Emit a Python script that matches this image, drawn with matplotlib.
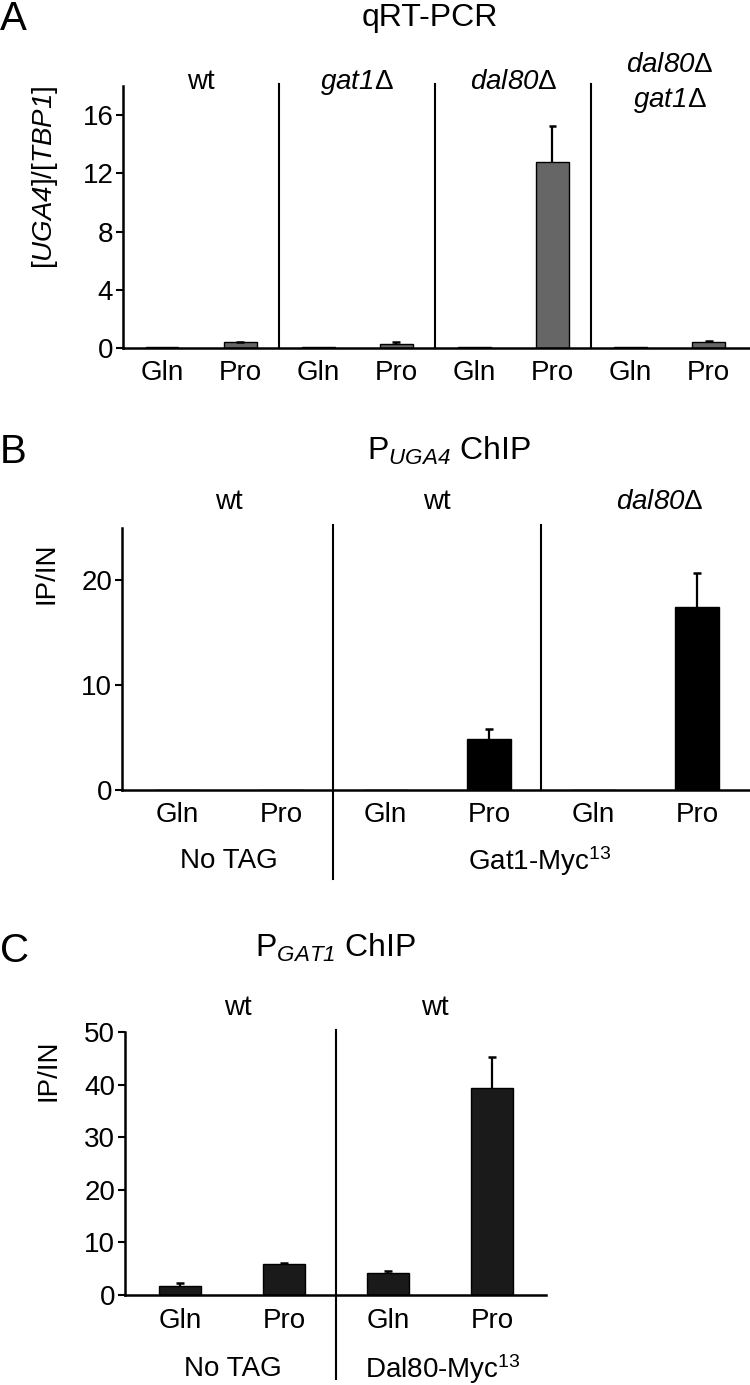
import matplotlib
matplotlib.use('Agg')
import matplotlib.pyplot as plt
import matplotlib.transforms as mtransforms

plt.rcParams['font.family'] = 'Liberation Sans'
plt.rcParams['mathtext.fontset'] = 'custom'
plt.rcParams['mathtext.rm'] = 'Liberation Sans'
plt.rcParams['mathtext.it'] = 'Liberation Sans:italic'
plt.rcParams['mathtext.sf'] = 'Liberation Sans:italic'   # italic incl. digits
plt.rcParams['mathtext.bf'] = 'Liberation Sans:bold'

# panel A - qRT-PCR
a_ticklabels = ['Gln', 'Pro', 'Gln', 'Pro', 'Gln', 'Pro', 'Gln', 'Pro']
a_values = [0.05, 0.38, 0.05, 0.30, 0.05, 12.8, 0.05, 0.42]
a_err = [0, 0.05, 0, 0.12, 0, 2.45, 0, 0.07]
a_groups = [['wt'], ['$\\mathsf{gat1}$Δ'], ['$\\mathsf{dal80}$Δ'],
            ['$\\mathsf{dal80}$Δ', '$\\mathsf{gat1}$Δ']]

# panel B - P_UGA4 ChIP
b_ticklabels = ['Gln', 'Pro', 'Gln', 'Pro', 'Gln', 'Pro']
b_values = [0, 0, 0, 4.85, 0, 17.5]
b_err = [0, 0, 0, 0.95, 0, 3.2]
b_groups = ['wt', 'wt', '$\\mathsf{dal80}$Δ']
b_tags = ['No TAG', 'Gat1-Myc$^{13}$']

# panel C - P_GAT1 ChIP
c_ticklabels = ['Gln', 'Pro', 'Gln', 'Pro']
c_values = [1.7, 5.8, 4.2, 39.3]
c_err = [0.6, 0.3, 0.3, 5.9]
c_groups = ['wt', 'wt']
c_tags = ['No TAG', 'Dal80-Myc$^{13}$']

W, H = 750, 1385
fig = plt.figure(figsize=(W / 100, H / 100), dpi=100)


def px(x, y):
    return x / W, 1 - y / H


def make_axes(left, top, right, bottom):
    l, t = px(left, top)
    r, b = px(right, bottom)
    return fig.add_axes([l, b, r - l, t - b])


def style(ax, ticklabels, xlim, ylim, yticks):
    for s in ['top', 'right']:
        ax.spines[s].set_visible(False)
    for s in ['left', 'bottom']:
        ax.spines[s].set_linewidth(1.8)
    ax.set_xlim(xlim)
    ax.set_ylim(ylim)
    ax.set_yticks(yticks)
    ax.set_xticks(range(len(ticklabels)))
    ax.set_xticklabels(ticklabels)
    ax.tick_params(axis='y', direction='out', length=5, width=1.5, labelsize=20, pad=2)
    ax.tick_params(axis='x', length=0, labelsize=20, pad=9)


def bars(ax, values, err, color, width, cap):
    x = range(len(values))
    ax.bar(x, values, width, color=color, edgecolor='black', linewidth=1.0, zorder=2)
    # upper error bars only
    for i in x:
        if err[i] > 0:
            top = values[i] + err[i]
            ax.vlines(i, values[i], top, color='black', lw=1.6, zorder=3)
            ax.hlines(top, i - cap / 2, i + cap / 2, color='black', lw=1.8, zorder=3)


def vline(ax, x, y0, y1):
    tr = mtransforms.blended_transform_factory(ax.transData, ax.transAxes)
    ax.plot([x, x], [y0, y1], color='black', lw=1.5, transform=tr, clip_on=False)


def label(ax, x, y, s, size=20):
    tr = mtransforms.blended_transform_factory(ax.transData, ax.transAxes)
    ax.text(x, y, s, transform=tr, ha='center', va='center', fontsize=size)


# ---- A ----
axA = make_axes(123, 86, 750, 348)
bars(axA, a_values, a_err, '#666666', 0.42, 0.1)
style(axA, a_ticklabels, (-0.5, 7.53), (0, 18), [0, 4, 8, 12, 16])
for x in [1.5, 3.5, 5.5]:
    vline(axA, x, 0, 1.008)
for i, g in enumerate(a_groups):
    if len(g) == 1:
        label(axA, 2 * i + 0.5, 1.015, g[0])
    else:
        label(axA, 2 * i + 0.5, 1.08, g[0])
        label(axA, 2 * i + 0.5, 0.945, g[1])
fig.text(*px(45, 177), '[$\\mathsf{UGA4}$]/[$\\mathsf{TBP1}$]', rotation=90,
         ha='center', va='center', fontsize=20)
fig.text(*px(0, 19), 'A', ha='left', va='center', fontsize=29)
fig.text(*px(430, 18), 'qRT-PCR', ha='center', va='center', fontsize=23)

# ---- B ----
axB = make_axes(122, 528, 750, 790)
bars(axB, b_values, b_err, 'black', 0.42, 0.08)
style(axB, b_ticklabels, (-0.53, 5.51), (0, 25), [0, 10, 20])
vline(axB, 1.5, -0.34, 1.01)
vline(axB, 3.5, 0, 1.01)
for x, g in zip([0.5, 2.5, 4.64], b_groups):
    label(axB, x, 1.10, g)
label(axB, 0.5, -0.27, b_tags[0])
label(axB, 3.49, -0.27, b_tags[1])
fig.text(*px(47, 573), 'IP/IN', rotation=90, ha='center', va='center', fontsize=20)
fig.text(*px(0, 452), 'B', ha='left', va='center', fontsize=29)
fig.text(*px(449, 451), 'P$_{\\mathsf{UGA4}}$ ChIP', ha='center', va='center', fontsize=23)

# ---- C ----
axC = make_axes(125, 1032, 546, 1295)
bars(axC, c_values, c_err, '#1a1a1a', 0.41, 0.08)
style(axC, c_ticklabels, (-0.53, 3.52), (0, 50), [0, 10, 20, 30, 40, 50])
vline(axC, 1.5, -0.32, 1.008)
for x, g in zip([0.56, 2.45], c_groups):
    label(axC, x, 1.09, g)
label(axC, 0.51, -0.28, c_tags[0])
label(axC, 2.53, -0.28, c_tags[1])
fig.text(*px(48, 1070), 'IP/IN', rotation=90, ha='center', va='center', fontsize=20)
fig.text(*px(0, 951), 'C', ha='left', va='center', fontsize=29)
fig.text(*px(336, 948), 'P$_{\\mathsf{GAT1}}$ ChIP', ha='center', va='center', fontsize=23)

fig.savefig('out.png', dpi=100)
